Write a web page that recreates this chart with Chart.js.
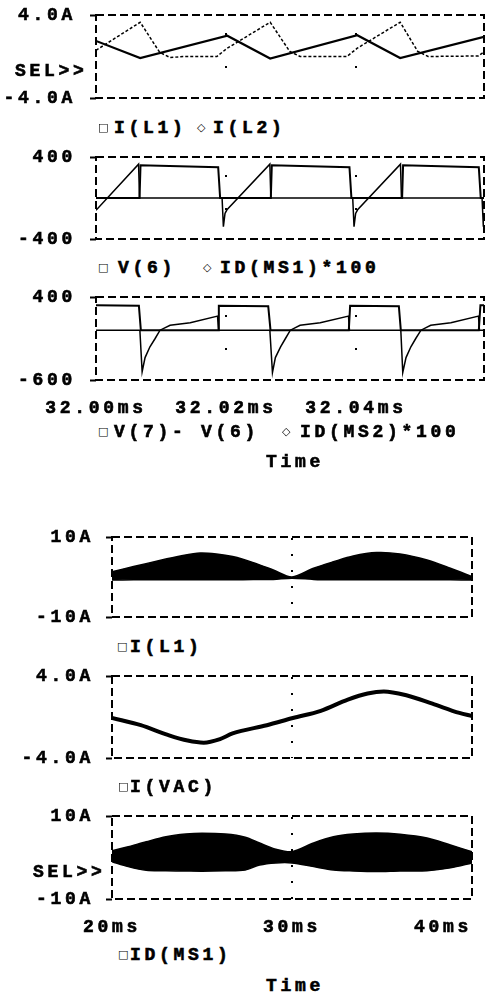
<!DOCTYPE html>
<html lang="en">
<head>
<meta charset="utf-8">
<title>PSpice - I(L1), V(6), ID(MS1)</title>
<script src="https://cdn.jsdelivr.net/npm/chart.js@4.4.1/dist/chart.umd.min.js"></script>
<style>
  html, body { margin: 0; padding: 0; background: #fff; }
  body { width: 487px; height: 995px; position: relative; overflow: hidden; }
  .panel { position: absolute; left: 0; width: 487px; }
  .txt { position: absolute; font: bold 18px "Liberation Mono", monospace; letter-spacing: 3.7px; line-height: 18px; color: #000; white-space: pre; -webkit-text-stroke: 0.6px #000; }
  .sym { position: absolute; font: 11px "DejaVu Sans", sans-serif; line-height: 12px; color: #000; }
</style>
</head>
<body>

<div class="panel" style="top:0;height:112px"><canvas id="p1"></canvas></div>
<div class="panel" style="top:140px;height:112px"><canvas id="p2"></canvas></div>
<div class="panel" style="top:285px;height:140px"><canvas id="p3"></canvas></div>
<div class="panel" style="top:520px;height:112px"><canvas id="p4"></canvas></div>
<div class="panel" style="top:660px;height:112px"><canvas id="p5"></canvas></div>
<div class="panel" style="top:800px;height:145px"><canvas id="p6"></canvas></div>

<!-- marcas SEL>> -->
<div class="txt" style="left:15px;top:62px">SEL&gt;&gt;</div>
<div class="txt" style="left:33px;top:863px">SEL&gt;&gt;</div>

<!-- leyendas de trazas -->
<div class="sym" style="left:98px;top:122px">□</div>
<div class="txt" style="left:114px;top:119px">I(L1)</div>
<div class="sym" style="left:197px;top:122px">◇</div>
<div class="txt" style="left:213px;top:119px">I(L2)</div>

<div class="sym" style="left:98px;top:262px">□</div>
<div class="txt" style="left:118px;top:259px">V(6)</div>
<div class="sym" style="left:203px;top:262px">◇</div>
<div class="txt" style="left:220px;top:259px">ID(MS1)*100</div>

<div class="sym" style="left:98px;top:426px">□</div>
<div class="txt" style="left:114px;top:423px">V(7)- V(6)</div>
<div class="sym" style="left:282px;top:426px">◇</div>
<div class="txt" style="left:300px;top:423px">ID(MS2)*100</div>
<div class="txt" style="left:266px;top:453px">Time</div>

<div class="sym" style="left:117px;top:641px">□</div>
<div class="txt" style="left:130px;top:638px">I(L1)</div>
<div class="sym" style="left:118px;top:781px">□</div>
<div class="txt" style="left:130px;top:778px">I(VAC)</div>
<div class="sym" style="left:118px;top:949px">□</div>
<div class="txt" style="left:130px;top:946px">ID(MS1)</div>
<div class="txt" style="left:266px;top:977px">Time</div>

<script>
// Datos (tiempos en ms)

// Panel 1: I(L1) e I(L2), 32.00ms - 32.06ms
const tIL1 = [32.0000, 32.0068, 32.0202, 32.0268, 32.0402, 32.0468, 32.0597];
const iL1 = [1.5, -0.15, 2.0, -0.2, 2.05, -0.15, 1.9];
const tIL2 = [32.0000, 32.0068, 32.0098, 32.0114, 32.0134, 32.0186, 32.0202, 32.0268, 32.0298, 32.0314,
  32.0386, 32.0402, 32.0468, 32.0495, 32.0511, 32.0588, 32.0597];
const iL2 = [0.6, 3.3, 0.4, -0.1, 0, 0, 0.8, 3.3, 0.5, 0, 0, 0.8, 3.3, 0.5, 0, 0.05, 0.45];

// Panel 2: V(6) e ID(MS1)*100
const tV6 = [32.0000, 32.0067, 32.00685, 32.0188, 32.0191, 32.0269, 32.02705, 32.0390, 32.0393,
  32.0471, 32.04725, 32.0589, 32.0592, 32.0597];
const v6 = [0, 0, 320, 300, 0, 0, 320, 300, 0, 0, 320, 300, 0, 0];
const tID1 = [32.0000, 32.00655, 32.0067, 32.0194, 32.0196, 32.01985, 32.02015, 32.02675, 32.0269,
  32.0395, 32.0397, 32.03995, 32.04025, 32.04685, 32.0470, 32.0594, 32.0596, 32.0597];
const id1 = [-120, 330, 0, 0, -280, -150, -115, 330, 0, 0, -280, -150, -115, 330, 0, 0, -280, -200];

// Panel 3: V(7)-V(6) e ID(MS2)*100
const tV76 = [32.0000, 32.0066, 32.0069, 32.0188, 32.0189, 32.0265, 32.02685, 32.0389, 32.0391,
  32.0466, 32.0469, 32.0589, 32.05915, 32.0597];
const v76 = [300, 295, 0, 0, 295, 290, 0, 0, 295, 290, 0, 0, 300, 300];
const tID2 = [32.0000, 32.00675, 32.0071, 32.00755, 32.0083, 32.0091, 32.00985, 32.0114, 32.0145, 32.0187, 32.01885,
  32.02675, 32.02715, 32.0276, 32.0284, 32.02915, 32.0299, 32.0314, 32.0345, 32.03885, 32.0390,
  32.0469, 32.0472, 32.0477, 32.04845, 32.0492, 32.0500, 32.0515, 32.0546, 32.05885, 32.0590, 32.0597];
const id2 = [0, 0, -500, -330, -200, -100, 0, 60, 90, 170, 0,
  0, -510, -330, -200, -100, 0, 60, 90, 170, 0,
  0, -510, -330, -200, -100, 0, 60, 90, 170, 0, 0];

const xTicksCorto = [32.00, 32.02, 32.04];
const xLabelsCorto = ["32.00ms", "32.02ms", "32.04ms"];

// Panel 4: envolvente de I(L1), 20ms - 40ms
const t4 = [20.0, 21.2, 22.7, 23.8, 24.9, 25.8, 26.7, 27.85, 28.96, 30.0, 31.2, 32.3, 33.4, 34.7, 36.0, 37.5, 38.8, 40.0];
const iL1Max = [1.3, 2.6, 4.2, 5.25, 6.0, 5.75, 5.1, 3.6, 1.75, 0.0, 2.2, 3.8, 5.25, 6.1, 5.75, 4.25, 2.2, 0.1];
const iL1Min = [-0.75, -0.7, -0.7, -0.7, -0.7, -0.7, -0.7, -0.65, -0.6, -0.3, -0.6, -0.7, -0.7, -0.7, -0.7, -0.7, -0.7, -0.75];

// Panel 5: I(VAC)
const t5 = [20.0, 21.6, 23.1, 24.2, 25.1, 26.0, 26.7, 28.6, 30.05, 31.6, 33.1, 34.2, 35.1, 36.4, 37.8, 39.3, 40.0];
const iVac = [-0.1, -0.8, -1.75, -2.3, -2.5, -2.15, -1.6, -0.8, -0.1, 0.6, 1.7, 2.3, 2.5, 2.1, 1.3, 0.4, 0.1];

// Panel 6: envolvente de ID(MS1)
const t6 = [20.0, 20.9, 21.9, 23.0, 24.1, 25.0, 26.3, 27.4, 28.2, 29.1, 30.0, 31.2, 32.3, 33.4, 34.7, 36.0, 37.5, 38.8, 40.0];
const idMax = [1.6, 2.6, 3.8, 5.0, 5.65, 5.85, 5.65, 4.9, 3.5, 2.0, 1.4, 3.5, 5.0, 5.65, 5.9, 5.6, 4.7, 3.0, 1.4];
const idMin = [-1.0, -2.2, -3.1, -3.2, -3.25, -3.3, -3.2, -3.0, -1.8, -1.3, -1.3, -2.2, -3.0, -3.25, -3.4, -3.25, -3.2, -2.5, -1.3];

const xTicksLargo = [20, 30, 40];
const xLabelsLargo = ["20ms", "30ms", "40ms"];

// Escalas verticales: valores y etiquetas de min/max
const yTicks1 = [-4, 4], yLabels1 = ["-4.0A", "4.0A"];
const yTicks2 = [-400, 400], yLabels2 = ["-400", "400"];
const yTicks3 = [-600, 400], yLabels3 = ["-600", "400"];
const yTicks4 = [-10, 10], yLabels4 = ["-10A", "10A"];
const yTicks5 = [-4, 4], yLabels5 = ["-4.0A", "4.0A"];
const yTicks6 = [-10, 10], yLabels6 = ["-10A", "10A"];

const fuente = { family: "'Liberation Mono', monospace", size: 18, weight: "bold" };

function puntos(t, v) {
  return t.map((x, i) => ({ x: x, y: v[i] }));
}

// Marco discontinuo alrededor del area de trazado
const marco = {
  id: "marco",
  beforeDatasetsDraw(chart) {
    const { ctx, chartArea: a } = chart;
    ctx.save();
    ctx.setLineDash([8, 4]);
    ctx.lineWidth = 2;
    ctx.strokeStyle = "#000";
    ctx.strokeRect(a.left, a.top, a.right - a.left, a.bottom - a.top);
    ctx.restore();
  }
};

// Letras espaciadas como en la fuente de PSpice
const espaciado = {
  id: "espaciado",
  beforeDraw(chart) {
    chart.ctx.letterSpacing = "3.7px";
  }
};

function crearPanel(id, cfg) {
  return new Chart(document.getElementById(id), {
    type: "line",
    data: { datasets: cfg.datasets },
    options: {
      animation: false,
      responsive: true,
      maintainAspectRatio: false,
      layout: { padding: { top: cfg.padTop, right: cfg.padRight, left: 0, bottom: 0 } },
      plugins: { legend: { display: false }, tooltip: { enabled: false } },
      elements: { point: { radius: 0 }, line: { borderColor: "#000", borderWidth: 2, tension: 0 } },
      scales: {
        x: {
          type: "linear",
          min: cfg.xMin,
          max: cfg.xMax,
          afterBuildTicks: s => { s.ticks = cfg.xTicks.map(v => ({ value: v })); },
          afterFit: s => { s.height = cfg.xHeight; s.paddingLeft = 0; s.paddingRight = 0; },
          ticks: {
            display: cfg.showX,
            autoSkip: false,
            maxRotation: 0,
            padding: 18,
            color: "#000",
            font: fuente,
            textStrokeColor: "#000",
            textStrokeWidth: 0.6,
            // la ultima etiqueta se pega al borde derecho, como en PSpice
            callback: (v, i) => (cfg.padLast && i === cfg.xLabels.length - 1) ? cfg.xLabels[i] + "    " : cfg.xLabels[i]
          },
          grid: {
            drawTicks: false,
            lineWidth: 2,
            color: c => (c.tick && c.tick.value > cfg.xMin && c.tick.value < cfg.xMax) ? "#000" : "rgba(0,0,0,0)"
          },
          border: { display: false, dash: cfg.gridDash, dashOffset: 15 }
        },
        y: {
          min: cfg.yTicks[0],
          max: cfg.yTicks[1],
          afterBuildTicks: s => { s.ticks = cfg.yTicks.map(v => ({ value: v })); },
          afterFit: s => { s.width = cfg.yWidth; s.paddingTop = 0; s.paddingBottom = 0; },
          ticks: {
            color: "#000", font: fuente, padding: cfg.yPad,
            textStrokeColor: "#000", textStrokeWidth: 0.6,
            callback: (v, i) => cfg.yLabels[i]
          },
          grid: { drawOnChartArea: false, drawTicks: true, tickLength: 6, tickWidth: 2, tickColor: "#000" },
          border: { display: false }
        }
      }
    },
    plugins: [marco, espaciado]
  });
}

const corto = { xMin: 32.0, xMax: 32.0597, xTicks: xTicksCorto, xLabels: xLabelsCorto, yWidth: 96, padRight: 3, yPad: 14, gridDash: [2, 31] };
const largo = { xMin: 20, xMax: 40, xTicks: xTicksLargo, xLabels: xLabelsLargo, yWidth: 112, padRight: 15, yPad: 12, gridDash: [2, 14] };

crearPanel("p1", Object.assign({}, corto, {
  padTop: 15, xHeight: 14, showX: false, yTicks: yTicks1, yLabels: yLabels1,
  datasets: [
    { data: puntos(tIL1, iL1), borderWidth: 2.2 },
    { data: puntos(tIL2, iL2), borderWidth: 1.5, borderDash: [3, 2] }
  ]
}));

crearPanel("p2", Object.assign({}, corto, {
  padTop: 17, xHeight: 13, showX: false, yTicks: yTicks2, yLabels: yLabels2,
  datasets: [
    { data: puntos(tV6, v6), borderWidth: 2 },
    { data: puntos(tID1, id1), borderWidth: 1.5 }
  ]
}));

crearPanel("p3", Object.assign({}, corto, {
  padTop: 12, xHeight: 45, showX: true, yTicks: yTicks3, yLabels: yLabels3,
  datasets: [
    { data: puntos(tV76, v76), borderWidth: 2 },
    { data: puntos(tID2, id2), borderWidth: 1.5 }
  ]
}));

crearPanel("p4", Object.assign({}, largo, {
  padTop: 17, xHeight: 15, showX: false, yTicks: yTicks4, yLabels: yLabels4,
  datasets: [
    { data: puntos(t4, iL1Max), fill: "+1", backgroundColor: "#000", borderWidth: 1.5, tension: 0.3 },
    { data: puntos(t4, iL1Min), fill: false, borderWidth: 1.5, tension: 0.3 }
  ]
}));

crearPanel("p5", Object.assign({}, largo, {
  padTop: 16, xHeight: 14, showX: false, yTicks: yTicks5, yLabels: yLabels5,
  datasets: [
    { data: puntos(t5, iVac), borderWidth: 4, cubicInterpolationMode: "monotone" }
  ]
}));

crearPanel("p6", Object.assign({}, largo, {
  padTop: 16, xHeight: 46, showX: true, padLast: true, yTicks: yTicks6, yLabels: yLabels6,
  datasets: [
    { data: puntos(t6, idMax), fill: "+1", backgroundColor: "#000", borderWidth: 1.5, tension: 0.3 },
    { data: puntos(t6, idMin), fill: false, borderWidth: 1.5, tension: 0.3 }
  ]
}));
</script>
</body>
</html>
